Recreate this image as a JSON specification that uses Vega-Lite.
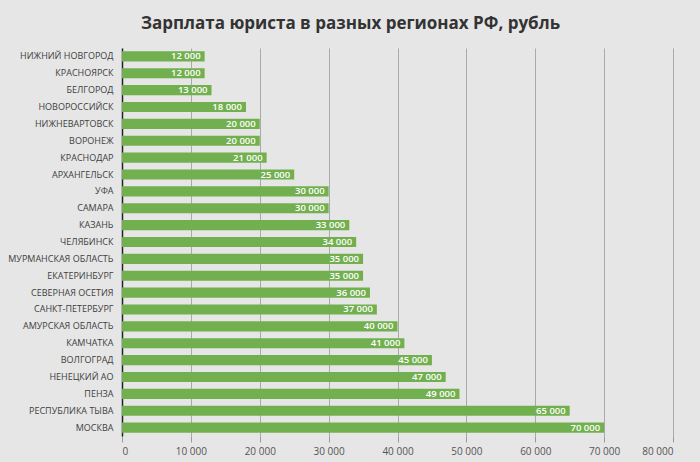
{
  "$schema": "https://vega.github.io/schema/vega-lite/v6.json",
  "autosize": "none",
  "width": 551,
  "height": 388,
  "padding": {"left": 122, "top": 48, "right": 27, "bottom": 26},
  "background": "#e6e6e6",
  "title": {
    "text": "Зарплата юриста в разных регионах РФ, рубль",
    "font": "Open Sans",
    "fontSize": 17,
    "fontWeight": "bold",
    "color": "#333333",
    "anchor": "middle",
    "dx": -47,
    "offset": 15
  },
  "data": {
    "values": [
      {"city": "НИЖНИЙ НОВГОРОД", "salary": 12000},
      {"city": "КРАСНОЯРСК", "salary": 12000},
      {"city": "БЕЛГОРОД", "salary": 13000},
      {"city": "НОВОРОССИЙСК", "salary": 18000},
      {"city": "НИЖНЕВАРТОВСК", "salary": 20000},
      {"city": "ВОРОНЕЖ", "salary": 20000},
      {"city": "КРАСНОДАР", "salary": 21000},
      {"city": "АРХАНГЕЛЬСК", "salary": 25000},
      {"city": "УФА", "salary": 30000},
      {"city": "САМАРА", "salary": 30000},
      {"city": "КАЗАНЬ", "salary": 33000},
      {"city": "ЧЕЛЯБИНСК", "salary": 34000},
      {"city": "МУРМАНСКАЯ ОБЛАСТЬ", "salary": 35000},
      {"city": "ЕКАТЕРИНБУРГ", "salary": 35000},
      {"city": "СЕВЕРНАЯ ОСЕТИЯ", "salary": 36000},
      {"city": "САНКТ-ПЕТЕРБУРГ", "salary": 37000},
      {"city": "АМУРСКАЯ ОБЛАСТЬ", "salary": 40000},
      {"city": "КАМЧАТКА", "salary": 41000},
      {"city": "ВОЛГОГРАД", "salary": 45000},
      {"city": "НЕНЕЦКИЙ АО", "salary": 47000},
      {"city": "ПЕНЗА", "salary": 49000},
      {"city": "РЕСПУБЛИКА ТЫВА", "salary": 65000},
      {"city": "МОСКВА", "salary": 70000}
    ]
  },
  "encoding": {
    "y": {
      "field": "city",
      "type": "nominal",
      "sort": null,
      "title": null,
      "scale": {"paddingInner": 0.4, "paddingOuter": 0.2},
      "axis": {
        "domainColor": "#222222",
        "domainWidth": 1.5,
        "ticks": false,
        "labelPadding": 9,
        "labelFont": "Open Sans",
        "labelFontSize": 9,
        "labelColor": "#404040"
      }
    },
    "x": {
      "field": "salary",
      "type": "quantitative",
      "title": null,
      "scale": {"domain": [0, 80000], "nice": false},
      "axis": {
        "values": [0, 10000, 20000, 30000, 40000, 50000, 60000, 70000, 80000],
        "format": ",d",
        "domain": false,
        "grid": true,
        "gridColor": "#9a9a9a",
        "gridWidth": 0.8,
        "ticks": true,
        "tickColor": "#9a9a9a",
        "tickSize": 6,
        "labelPadding": 4,
        "labelFont": "Open Sans",
        "labelFontSize": 10,
        "labelColor": "#555555"
      }
    }
  },
  "layer": [
    {
      "mark": {"type": "bar", "color": "#72b04f"}
    },
    {
      "mark": {
        "type": "text",
        "align": "right",
        "dx": -4,
        "font": "Open Sans",
        "fontSize": 9.5,
        "fontWeight": 600,
        "color": "white"
      },
      "encoding": {
        "text": {"field": "salary", "type": "quantitative", "format": ",d"}
      }
    }
  ],
  "config": {
    "view": {"stroke": null},
    "locale": {
      "number": {
        "decimal": ",",
        "thousands": " ",
        "grouping": [3],
        "currency": ["", " ₽"]
      }
    }
  }
}
